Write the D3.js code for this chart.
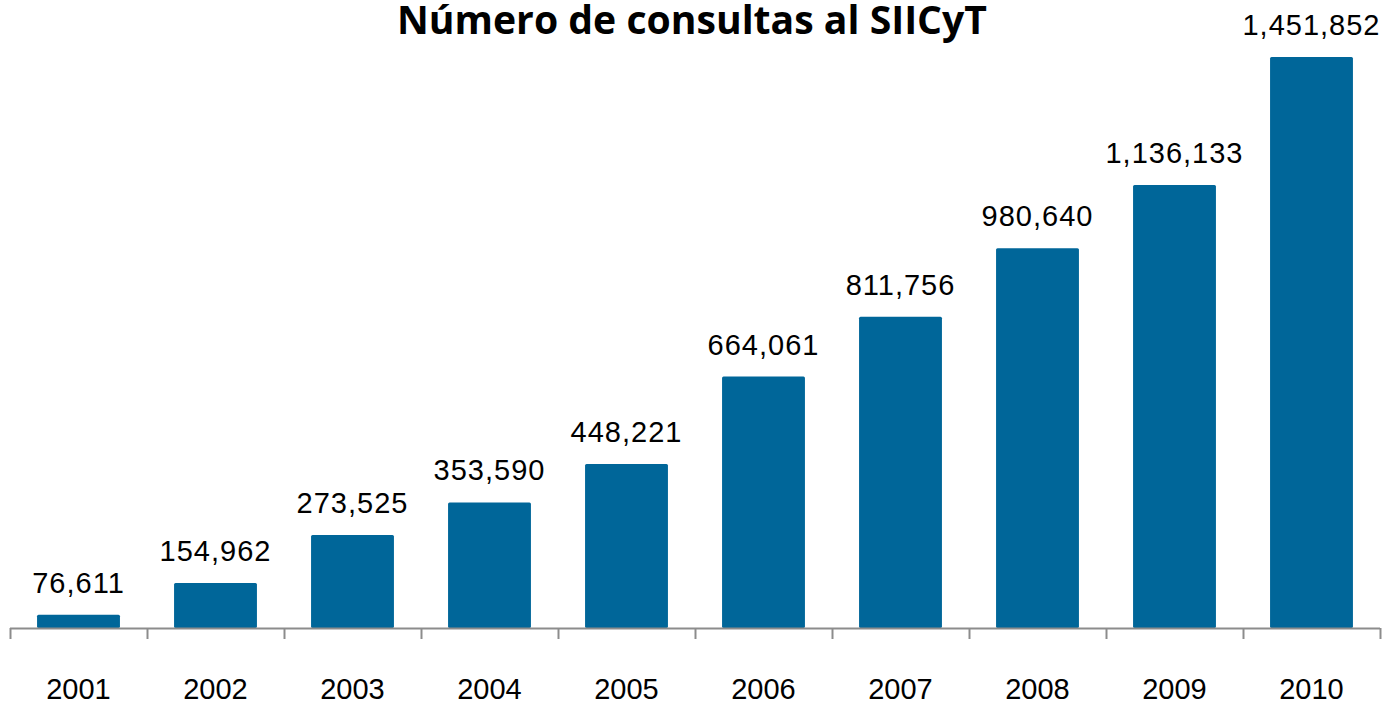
<!DOCTYPE html>
<html>
<head>
<meta charset="utf-8">
<script src="https://cdn.jsdelivr.net/npm/d3@7"></script>
<style>
  body { margin: 0; background: #fff; }
</style>
</head>
<body>
<div id="chart"></div>
<script>
const years = ["2001", "2002", "2003", "2004", "2005", "2006", "2007", "2008", "2009", "2010"];
const consultas = [76611, 154962, 273525, 353590, 448221, 664061, 811756, 980640, 1136133, 1451852];
const chartTitle = "Número de consultas al SIICyT";

const width = 1385, height = 707;
const margin = { top: 0, right: 5, bottom: 79, left: 10 };
const plotW = width - margin.left - margin.right;
const baseY = height - margin.bottom;

const svg = d3.select("#chart").append("svg")
    .attr("width", width)
    .attr("height", height);

// x band scale, one band per year
const x = d3.scaleBand()
    .domain(years)
    .range([margin.left, margin.left + plotW])
    .paddingInner(0.395)
    .paddingOuter(0.1975);

// axis in the original does not start at zero
const y = d3.scaleLinear()
    .domain([44000, 1500000])
    .range([baseY, 37.5]);

svg.append("text")
    .attr("x", 692)
    .attr("y", 34)
    .attr("text-anchor", "middle")
    .attr("textLength", 590)
    .attr("lengthAdjust", "spacingAndGlyphs")
    .style("font-family", "'Open Sans', Lato, sans-serif")
    .style("font-weight", "bold")
    .style("font-size", "39px")
    .style("fill", "#000")
    .text(chartTitle);

svg.selectAll(".bar")
    .data(years)
    .enter().append("rect")
    .attr("class", "bar")
    .attr("x", d => x(d))
    .attr("width", x.bandwidth())
    .attr("y", (d, i) => y(consultas[i]))
    .attr("height", (d, i) => baseY - y(consultas[i]))
    .attr("rx", 1.5)
    .style("fill", "#006699");

svg.selectAll(".val")
    .data(years)
    .enter().append("text")
    .attr("class", "val")
    .attr("x", d => x(d) + x.bandwidth() / 2)
    .attr("y", (d, i) => y(consultas[i]) - 22)
    .attr("text-anchor", "middle")
    .style("font-family", "'Liberation Sans', Arial, sans-serif")
    .style("font-size", "29px")
    .style("letter-spacing", "1px")
    .style("fill", "#000")
    .text((d, i) => d3.format(",")(consultas[i]));

// axis with ticks between categories
const axis = svg.append("g").attr("class", "x-axis");
const edges = years.map(d => x(d) - x.step() * x.paddingInner() / 2)
    .concat([margin.left + plotW]);

axis.append("line")
    .attr("x1", margin.left)
    .attr("x2", margin.left + plotW)
    .attr("y1", baseY + 0.5)
    .attr("y2", baseY + 0.5)
    .style("stroke", "#8c8c8c")
    .style("stroke-width", 2);

axis.selectAll(".tick")
    .data(edges)
    .enter().append("line")
    .attr("class", "tick")
    .attr("x1", d => Math.round(d) + 0.5)
    .attr("x2", d => Math.round(d) + 0.5)
    .attr("y1", baseY)
    .attr("y2", baseY + 11)
    .style("stroke", "#8c8c8c")
    .style("stroke-width", 2);

axis.selectAll(".lbl")
    .data(years)
    .enter().append("text")
    .attr("class", "lbl")
    .attr("x", d => x(d) + x.bandwidth() / 2)
    .attr("y", 699)
    .attr("text-anchor", "middle")
    .style("font-family", "'Liberation Sans', Arial, sans-serif")
    .style("font-size", "29px")
    .style("fill", "#000")
    .text(d => d);
</script>
</body>
</html>
